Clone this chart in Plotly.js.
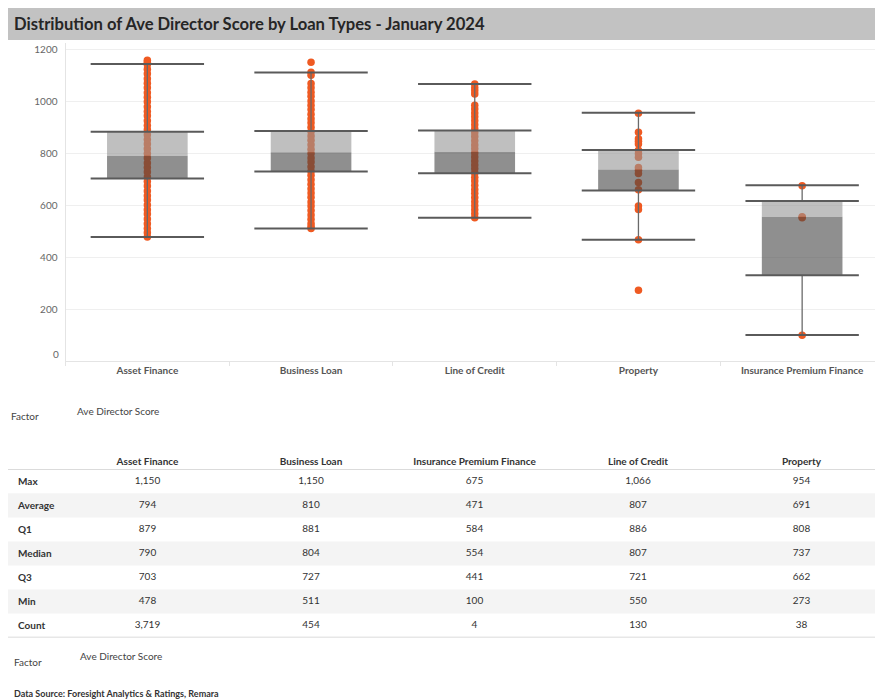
<!DOCTYPE html>
<html>
<head>
<meta charset="utf-8">
<script src="https://cdn.plot.ly/plotly-3.0.1.min.js"></script>
<style>
html,body{margin:0;padding:0;overflow:hidden;background:#fff;}
#chart{width:884px;height:699px;}
</style>
</head>
<body>
<div id="chart"></div>
<script>
// ---------- data ----------
const loanTypes = ['Asset Finance','Business Loan','Line of Credit','Property','Insurance Premium Finance'];
const boxUpper    = [883, 886, 888, 813, 616];
const boxMedian   = [790, 804, 806, 738, 556];
const boxLower    = [703, 730, 723, 657, 331];
const whiskerHigh = [1143, 1111, 1066, 956, 677];
const whiskerLow  = [478, 511, 552, 467, 101];

const assetFinancePoints = [478, 494, 511, 529, 547, 566, 583, 601, 620, 637, 655, 674, 691, 709, 728, 745, 763, 782, 799, 817, 836, 853, 871, 890, 907, 925, 944, 961, 979, 998, 1015, 1033, 1052, 1069, 1087, 1106, 1123, 1141, 1150, 1158];
const businessLoanPoints = [1150, 1112, 1100, 1068, 1052, 1035, 1019, 1001, 985, 968, 950, 933, 917, 900, 884, 866, 850, 833, 815, 799, 782, 766, 748, 731, 715, 698, 681, 664, 647, 631, 613, 597, 580, 563, 546, 530, 518, 511];
const lineOfCreditPoints = [1066, 1052, 1040, 1028, 985, 970, 955, 940, 925, 910, 894, 879, 864, 848, 832, 817, 801, 786, 770, 755, 740, 724, 708, 693, 677, 661, 646, 630, 614, 598, 583, 567, 552];
const propertyPoints = [954, 881, 856, 846, 836, 812, 798, 785, 745, 735, 722, 688, 660, 597, 584, 467, 273];
const insurancePoints = [675, 556, 552, 100];
const pointSets = [assetFinancePoints, businessLoanPoints, lineOfCreditPoints, propertyPoints, insurancePoints];

// table (column order as in the report)
const tableColumns = ['Asset Finance','Business Loan','Insurance Premium Finance','Line of Credit','Property'];
const tableRows = ['Max','Average','Q1','Median','Q3','Min','Count'];
const tAssetFinance = [1150, 794, 879, 790, 703, 478, 3719];
const tBusinessLoan = [1150, 810, 881, 804, 727, 511, 454];
const tInsurance    = [675, 471, 584, 554, 441, 100, 4];
const tLineOfCredit = [1066, 807, 886, 807, 721, 550, 130];
const tProperty     = [954, 691, 808, 737, 662, 273, 38];
const tableData = [tAssetFinance, tBusinessLoan, tInsurance, tLineOfCredit, tProperty];

// ---------- layout helpers ----------
const W = 884, H = 699;
const px = v => v / W;
const py = v => 1 - v / H;
const FONT = 'Lato, "Open Sans", sans-serif';
const ORANGE = '#EF5A22';

// points
const ptX = [], ptY = [];
pointSets.forEach((arr, i) => arr.forEach(v => { ptX.push(loanTypes[i]); ptY.push(v); }));

// whiskers
const wX = [], wY = [];
loanTypes.forEach((c, i) => {
  wX.push(c, c, null, c, c, null);
  wY.push(whiskerHigh[i], boxUpper[i], null, boxLower[i], whiskerLow[i], null);
});
// caps and box edges
const capX = [], capY = [];
loanTypes.forEach((c, i) => {
  [whiskerHigh[i], whiskerLow[i], boxUpper[i], boxLower[i]].forEach(v => { capX.push(c); capY.push(v); });
});

// table cell text
const cX = [], cY = [], cT = [];
tableData.forEach((col, ci) => col.forEach((v, ri) => { cX.push(ci); cY.push(ri); cT.push(v.toLocaleString('en-US')); }));

const BOXW = 0.4925;
const traces = [
  {type:'scatter', mode:'markers', x:ptX, y:ptY, xaxis:'x', yaxis:'y',
   marker:{color:ORANGE, size:7.5}, hoverinfo:'skip', showlegend:false},
  {type:'bar', x:loanTypes, y:boxMedian.map((m,i)=>m-boxLower[i]), base:boxLower, width:BOXW,
   xaxis:'x2', yaxis:'y2', marker:{color:'rgba(68,68,68,0.6)', line:{width:0}}, hoverinfo:'skip', showlegend:false},
  {type:'bar', x:loanTypes, y:boxUpper.map((u,i)=>u-boxMedian[i]), base:boxMedian, width:BOXW,
   xaxis:'x2', yaxis:'y2', marker:{color:'rgba(148,148,148,0.6)', line:{width:0}}, hoverinfo:'skip', showlegend:false},
  {type:'scatter', mode:'lines', x:wX, y:wY, xaxis:'x2', yaxis:'y2', connectgaps:false,
   line:{color:'#6a6a6a', width:1.3}, hoverinfo:'skip', showlegend:false},
  {type:'scatter', mode:'markers', x:capX, y:capY, xaxis:'x2', yaxis:'y2',
   marker:{symbol:'line-ew', size:81, line:{color:'#5a5a5a', width:2}}, hoverinfo:'skip', showlegend:false},
  {type:'scatter', mode:'text', x:cX, y:cY, text:cT, xaxis:'x3', yaxis:'y3', textposition:'middle center',
   textfont:{family:FONT, size:10, color:'#333'}, hoverinfo:'skip', showlegend:false}
];

const yRange = [0, 1224];
const xRange = [-0.5, 4.5];
const shapes = [
  {type:'rect', xref:'paper', yref:'paper', x0:px(8), x1:1, y0:py(40), y1:py(8), fillcolor:'#c2c2c2', line:{width:0}, layer:'below'}
];
tableRows.forEach((r, i) => {
  if (i % 2 === 1) shapes.push({type:'rect', xref:'paper', yref:'y3', x0:px(8), x1:1, y0:i-0.5, y1:i+0.5,
    fillcolor:'#f4f4f4', line:{width:0}, layer:'below'});
});
shapes.push({type:'line', xref:'paper', yref:'y3', x0:px(8), x1:1, y0:-0.5, y1:-0.5, line:{color:'#cfcfcf', width:1.5}, layer:'above'});
shapes.push({type:'line', xref:'paper', yref:'y3', x0:px(8), x1:1, y0:tableRows.length-0.5, y1:tableRows.length-0.5, line:{color:'#cfcfcf', width:1.5}, layer:'above'});

const layout = {
  width:W, height:H, margin:{l:0,r:0,t:0,b:0},
  paper_bgcolor:'#fff', plot_bgcolor:'rgba(0,0,0,0)',
  font:{family:FONT, color:'#333'},
  showlegend:false, hovermode:false, barmode:'overlay',
  xaxis:{domain:[px(65.5), 1], type:'category', categoryarray:loanTypes, categoryorder:'array', range:xRange,
    showline:true, linecolor:'#e4e4e4', linewidth:1, showgrid:false, zeroline:false,
    ticks:'outside', tickson:'boundaries', ticklen:4, tickcolor:'#e4e4e4',
    tickfont:{family:FONT, size:10, color:'#555', weight:'bold'}, fixedrange:true},
  yaxis:{domain:[py(361.3), py(43)], range:yRange, tickvals:[200,400,600,800,1000,1200],
    showline:true, linecolor:'#e4e4e4', linewidth:1, showgrid:true, gridcolor:'#efefef', gridwidth:1,
    zeroline:false, ticks:'', ticklabelstandoff:5,
    tickfont:{family:FONT, size:10, color:'#666'}, fixedrange:true},
  xaxis2:{overlaying:'x', type:'category', categoryarray:loanTypes, categoryorder:'array', range:xRange, visible:false, fixedrange:true},
  yaxis2:{overlaying:'y', range:yRange, visible:false, fixedrange:true},
  xaxis3:{domain:[px(65.75), px(883.25)], anchor:'y3', side:'top', range:[-0.5, tableColumns.length-0.5],
    tickvals:tableColumns.map((c,i)=>i), ticktext:tableColumns, ticks:'', showline:false, showgrid:false, zeroline:false,
    ticklabelstandoff:1, tickfont:{family:FONT, size:10, color:'#333', weight:'bold'}, fixedrange:true},
  yaxis3:{domain:[py(637.6), py(469.3)], anchor:'free', position:px(8), side:'left', range:[tableRows.length-0.5, -0.5],
    tickvals:tableRows.map((r,i)=>i), ticktext:tableRows, ticks:'', ticklabelposition:'inside', ticklabelstandoff:6,
    showline:false, showgrid:false, zeroline:false,
    tickfont:{family:FONT, size:10, color:'#333', weight:'bold'}, fixedrange:true},
  shapes:shapes,
  annotations:[
    {text:'Distribution of Ave Director Score by Loan Types - January 2024', xref:'paper', yref:'paper',
     x:px(12), y:py(24), xanchor:'left', yanchor:'middle', showarrow:false,
     font:{family:FONT, size:16.6, color:'#262626', weight:'bold'}},
    {text:'0', xref:'paper', yref:'y', x:px(60.5), y:0, yshift:7, xanchor:'right', yanchor:'middle', showarrow:false,
     font:{family:FONT, size:10, color:'#666'}},
    {text:'Factor', xref:'paper', yref:'paper', x:px(9), y:py(415.5), xanchor:'left', yanchor:'middle', showarrow:false,
     font:{family:FONT, size:10, color:'#444'}},
    {text:'Ave Director Score', xref:'paper', yref:'paper', x:px(75), y:py(410.5), xanchor:'left', yanchor:'middle', showarrow:false,
     font:{family:FONT, size:10, color:'#444'}},
    {text:'Factor', xref:'paper', yref:'paper', x:px(12), y:py(661.5), xanchor:'left', yanchor:'middle', showarrow:false,
     font:{family:FONT, size:10, color:'#444'}},
    {text:'Ave Director Score', xref:'paper', yref:'paper', x:px(78), y:py(656), xanchor:'left', yanchor:'middle', showarrow:false,
     font:{family:FONT, size:10, color:'#444'}},
    {text:'Data Source: Foresight Analytics & Ratings, Remara', xref:'paper', yref:'paper', x:px(12), y:py(693), xanchor:'left', yanchor:'middle', showarrow:false,
     font:{family:FONT, size:9, color:'#333', weight:'bold'}}
  ]
};

Plotly.newPlot('chart', traces, layout, {displayModeBar:false, staticPlot:true});
</script>
</body>
</html>
